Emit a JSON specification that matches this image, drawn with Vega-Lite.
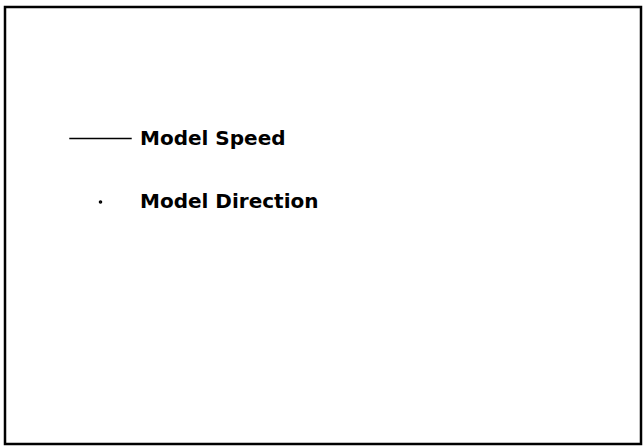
{
  "$schema": "https://vega.github.io/schema/vega-lite/v6.json",
  "width": 644,
  "height": 447,
  "autosize": {"type": "fit", "contains": "padding"},
  "padding": {"left": 5, "top": 7, "right": 3, "bottom": 3},
  "background": "white",
  "config": {"view": {"stroke": "black", "strokeWidth": 2.5}},
  "data": {"values": [
    {"series": "Model Speed"},
    {"series": "Model Direction"}
  ]},
  "mark": {"type": "point", "opacity": 0, "filled": false, "strokeWidth": 1.5},
  "encoding": {
    "x": {"field": "series", "type": "nominal", "axis": null},
    "y": {"field": "series", "type": "nominal", "axis": null},
    "color": {"field": "series", "type": "nominal",
      "scale": {"domain": ["Model Speed", "Model Direction"], "range": ["black", "black"]}
    },
    "shape": {"field": "series", "type": "nominal",
      "scale": {"domain": ["Model Speed", "Model Direction"], "range": ["stroke", "circle"]},
      "legend": {
        "title": null,
        "orient": "none",
        "legendX": 63,
        "legendY": 99,
        "padding": 0,
        "rowPadding": 43,
        "labelOffset": 7,
        "labelFont": "DejaVu Sans",
        "labelFontWeight": "bold",
        "labelFontSize": 20,
        "labelColor": "black",
        "labelLimit": 400,
        "symbolOpacity": 1,
        "symbolStrokeWidth": 1.6,
        "encode": {"symbols": {"update": {
          "opacity": {"value": 1},
          "fill": {"value": "black"},
          "stroke": {"value": "black"}
        }}}
      }
    },
    "size": {"field": "series", "type": "nominal",
      "scale": {"domain": ["Model Speed", "Model Direction"], "range": [3900, 4]}
    }
  }
}
